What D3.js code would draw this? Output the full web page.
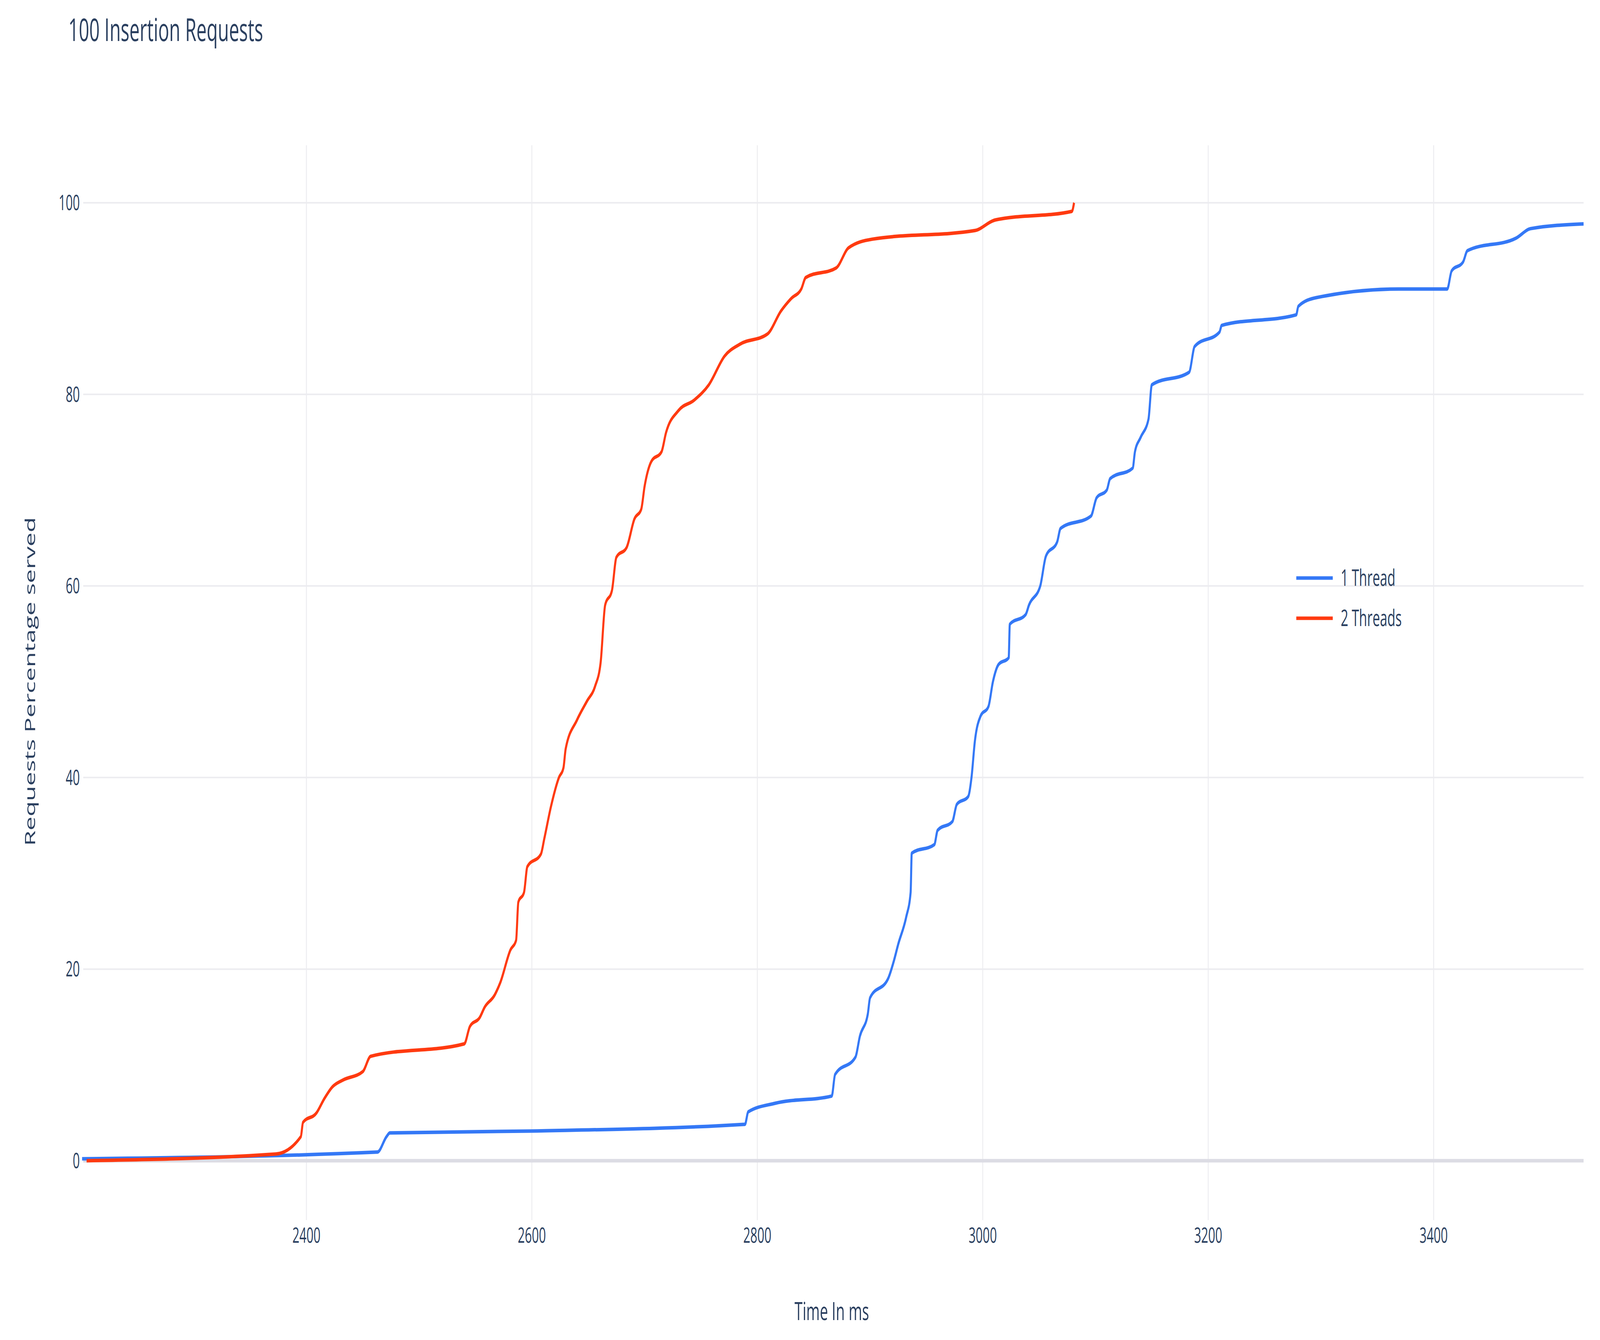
<!DOCTYPE html>
<html><head><meta charset="utf-8">
<script src="https://cdn.jsdelivr.net/npm/d3@7"></script>
<style>html,body{margin:0;padding:0;background:#fff;overflow:hidden}svg{display:block;width:100vw;height:100vh}text{font-family:"Open Sans",sans-serif;fill:#2a3f5f}</style>
</head><body>
<svg id="c" viewBox="0 0 7017 3431" preserveAspectRatio="none"></svg>
<script>
const seriesNames=["1 Thread","2 Threads"];
const xTicks=[2400,2600,2800,3000,3200,3400];
const yTicks=[0,20,40,60,80,100];
const oneThreadT=[2201,2463,2471,2474,2599,2789,2792,2816,2866,2869,2887,2891,2898,2900,2916,2921,2925,2932,2936,2937,2957,2960,2973,2977,2987,2990,2993,2998,3005,3009,3014,3023,3024,3038,3041,3051,3056,3066,3069,3096,3101,3110,3113,3133,3135,3140,3147,3150,3183,3188,3210,3212,3278,3280,3296,3369,3412,3416,3426,3430,3473,3486,3533];
const oneThreadV=[0.2,0.9,2.5,2.9,3.1,3.8,5.1,6,6.75,9,10.8,13,15.3,17,19,20.8,22.6,25.4,28,32.1,33,34.5,35.4,37.2,38,40,43.8,46.4,47.4,50,51.8,52.5,56,57,58,60,63.1,64.6,66,67.3,69.2,70,71.2,72.3,74,75.5,77.4,81,82.3,85,86.5,87.2,88.3,89.2,90.1,91,91,92.9,93.8,95,96.3,97.3,97.8];
const twoThreadsT=[2205,2373,2395,2397,2409,2416,2423,2432,2450,2457,2540,2545,2554,2558,2567,2572,2581,2586,2588,2593,2596,2608,2611,2617,2624,2628,2630,2640,2649,2656,2661,2665,2671,2675,2684,2691,2697,2700,2706,2715,2719,2730,2744,2757,2771,2784,2809,2821,2830,2839,2843,2870,2881,2902,2993,3011,3079,3081];
const twoThreadsV=[0,0.7,2.5,4,5,6.5,7.7,8.4,9.3,10.9,12.2,14,15,16,17.3,18.6,22,23,27,28,30.7,32,33.6,37,40,41,43,46,48,49.5,52,58,59.5,63,64,67,68,70.4,73,74,76,78.3,79.4,81,84,85.2,86.3,88.7,90,91,92.2,93.2,95.3,96.2,97.1,98.2,99.1,100];
const colors=["#3478f6","#ff3a10"];

const svg=d3.select("#c");
const L=365,R=6945,T=372,B=3124;
const x=d3.scaleLinear().domain([2202,3533]).range([L,R]);
const y=d3.scaleLinear().domain([-6.2,106]).range([B,T]);
const g=svg.append("g");
g.selectAll(".vg").data(xTicks).join("line").attr("x1",d=>x(d)).attr("x2",d=>x(d)).attr("y1",T).attr("y2",B).attr("stroke","#ececf0").attr("stroke-width",4);
g.selectAll(".hg").data(yTicks).join("line").attr("x1",L).attr("x2",R).attr("y1",d=>y(d)).attr("y2",d=>y(d)).attr("stroke",d=>d===0?"#dcdce4":"#ececf0").attr("stroke-width",d=>d===0?9:4);
svg.selectAll(".xt").data(xTicks).join("text").attr("x",d=>x(d)).attr("y",3182).attr("text-anchor","middle").attr("font-size",54).text(d=>d);
svg.selectAll(".yt").data(yTicks).join("text").attr("x",350).attr("y",d=>y(d)+19).attr("text-anchor","end").attr("font-size",54).text(d=>d);
const line=d3.line().x(d=>x(d[0])).y(d=>y(d[1])).curve(d3.curveMonotoneX);
const data=[d3.zip(oneThreadT,oneThreadV),d3.zip(twoThreadsT,twoThreadsV)];
data.forEach((s,i)=>svg.append("path").attr("d",line(s)).attr("fill","none").attr("stroke",colors[i]).attr("stroke-width",9).attr("stroke-linejoin","round"));
svg.append("text").attr("x",300).attr("y",105).attr("font-size",80).text("100 Insertion Requests");
svg.append("text").attr("x",3648).attr("y",3380).attr("text-anchor","middle").attr("font-size",64).text("Time In ms");
svg.append("text").attr("transform","translate(155,1745) rotate(-90)").attr("text-anchor","middle").attr("font-size",64).text("Requests Percentage served");
seriesNames.forEach((n,i)=>{const yy=1480+i*103;
 svg.append("line").attr("x1",5685).attr("x2",5845).attr("y1",yy).attr("y2",yy).attr("stroke",colors[i]).attr("stroke-width",9);
 svg.append("text").attr("x",5880).attr("y",yy+20).attr("font-size",58).text(n);});
</script></body></html>
